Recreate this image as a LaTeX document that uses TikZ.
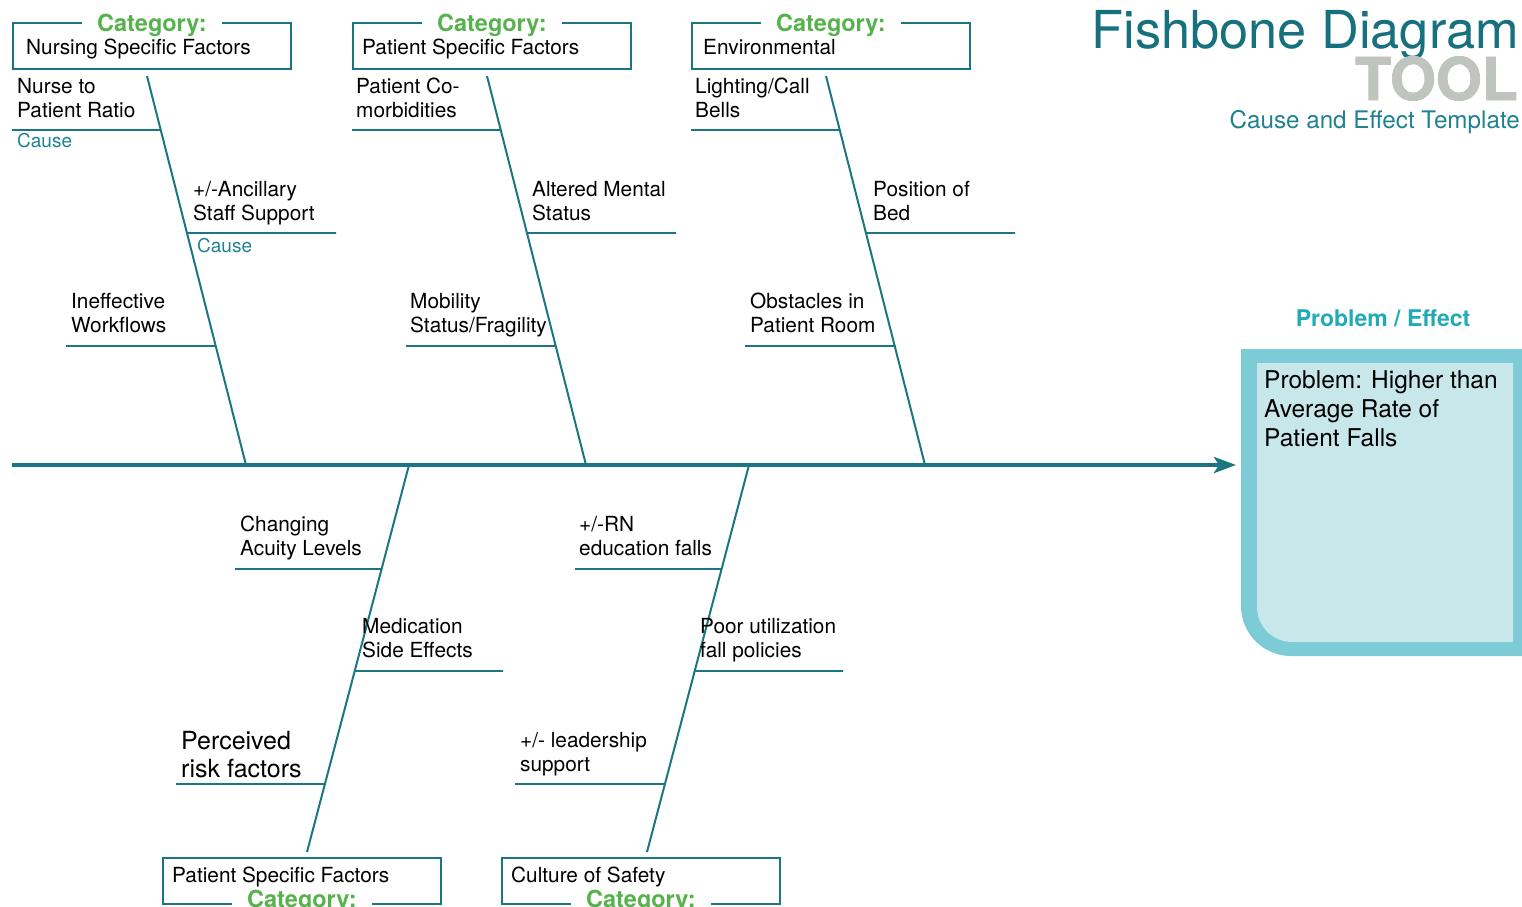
\documentclass[tikz,border=0pt]{standalone}
\usepackage{fontspec}
\setmainfont{TeX Gyre Heros}
\usetikzlibrary{arrows.meta,calc}
\definecolor{teal1}{RGB}{27,118,130}
\definecolor{titlecol}{RGB}{22,112,125}
\definecolor{teallt}{RGB}{30,130,145}
\definecolor{catgreen}{RGB}{86,178,76}
\definecolor{pecol}{RGB}{35,170,185}
\definecolor{boxout}{RGB}{124,203,214}
\definecolor{boxin}{RGB}{200,231,234}
\definecolor{toolgray}{RGB}{192,196,191}
\begin{document}
\begin{tikzpicture}[x=1pt,y=-1pt,
  bone/.style={draw=teal1,line width=2pt},
  subbone/.style={draw=teal1,line width=1.7pt},
  spine/.style={draw=teal1,line width=4pt},
  catbox/.style={draw=teal1,line width=1.8pt,minimum width=278pt,minimum height=46pt,inner sep=0pt,anchor=north west},
  cattitle/.style={font=\fontsize{23.5}{26}\selectfont\bfseries,text=catgreen,fill=white,inner xsep=15pt,inner ysep=0pt,anchor=base},
  cattext/.style={font=\fontsize{20.8}{24}\selectfont,anchor=base west,inner sep=0pt},
  lbl/.style={font=\fontsize{20.8}{24}\selectfont,anchor=base west,inner sep=0pt,align=left},
  biglbl/.style={font=\fontsize{25}{28}\selectfont,anchor=base west,inner sep=0pt,align=left},
  causelbl/.style={font=\fontsize{19}{20}\selectfont,text=teallt,anchor=base west,inner sep=0pt},
]
\useasboundingbox (0,0) rectangle (1522,906);

% title
\node[font=\fontsize{52.3}{56}\selectfont,text=titlecol,anchor=base east,inner sep=0pt] (title) at (1519,48) {Fishbone Diagram};
\node[font=\fontsize{59}{60}\selectfont\bfseries\addfontfeatures{FakeBold=1.6},text=toolgray,anchor=base east,inner sep=0pt] (tool) at (1518,100) {TOOL};
\node[font=\fontsize{24.2}{26}\selectfont,text=teallt,anchor=base east,inner sep=0pt] (subtitle) at (1520,128) {Cause and Effect Template};

% problem box
\fill[boxout] (1241,349) -- (1530,349) -- (1530,656) -- (1291,656) arc[start angle=90,end angle=180,radius=50] -- cycle;
\fill[boxin] (1257,363) -- (1513,363) -- (1513,642) -- (1292,642) arc[start angle=90,end angle=180,radius=35] -- cycle;
\node[font=\fontsize{23}{26}\selectfont\bfseries,text=pecol,anchor=base,inner sep=0pt] (pe) at (1383,326) {Problem / Effect};
\node[font=\fontsize{24.5}{29}\selectfont,anchor=base west,inner sep=0pt,align=left] (prob) at (1264,446) {Problem: Higher than\\Average Rate of\\Patient Falls};

% category boxes
\node[catbox] (cat1) at (12,22) {};
\node[catbox] (cat2) at (352,22) {};
\node[catbox] (cat3) at (691,22) {};
\node[catbox] (cat4) at (162,857) {};
\node[catbox] (cat5) at (501,857) {};
\node[cattitle] (cat1h) at ($(cat1.north)+(0,9)$) {Category:};
\node[cattitle] (cat2h) at ($(cat2.north)+(0,9)$) {Category:};
\node[cattitle] (cat3h) at ($(cat3.north)+(0,9)$) {Category:};
\node[cattitle] (cat4h) at ($(cat4.south)+(0,3)$) {Category:};
\node[cattitle] (cat5h) at ($(cat5.south)+(0,3)$) {Category:};
\node[cattext] (cat1t) at (26,54) {Nursing Specific Factors};
\node[cattext] (cat2t) at (362,54) {Patient Specific Factors};
\node[cattext] (cat3t) at (703,54) {Environmental};
\node[cattext] (cat4t) at (172,882) {Patient Specific Factors};
\node[cattext] (cat5t) at (511,882) {Culture of Safety};

% bones
\coordinate (b1t) at (147,76);  \coordinate (b1b) at (246,465);
\coordinate (b2t) at (487,76);  \coordinate (b2b) at (586,465);
\coordinate (b3t) at (826,76);  \coordinate (b3b) at (925,465);
\coordinate (b4t) at (409,465); \coordinate (b4b) at (307,852);
\coordinate (b5t) at (749,465); \coordinate (b5b) at (647,852);
\draw[bone] (b1t) -- (b1b);
\draw[bone] (b2t) -- (b2b);
\draw[bone] (b3t) -- (b3b);
\draw[bone] (b4t) -- (b4b);
\draw[bone] (b5t) -- (b5b);

% sub-bones top
\coordinate (s11) at (12,130);  \draw[subbone] (s11) -- ($(b1t)!0.1388!(b1b)$);
\coordinate (s12) at (336,233); \draw[subbone] (s12) -- ($(b1t)!0.4036!(b1b)$);
\coordinate (s13) at (66,346);  \draw[subbone] (s13) -- ($(b1t)!0.6941!(b1b)$);
\coordinate (s21) at (352,130); \draw[subbone] (s21) -- ($(b2t)!0.1388!(b2b)$);
\coordinate (s22) at (676,233); \draw[subbone] (s22) -- ($(b2t)!0.4036!(b2b)$);
\coordinate (s23) at (406,346); \draw[subbone] (s23) -- ($(b2t)!0.6941!(b2b)$);
\coordinate (s31) at (691,130); \draw[subbone] (s31) -- ($(b3t)!0.1388!(b3b)$);
\coordinate (s32) at (1015,233);\draw[subbone] (s32) -- ($(b3t)!0.4036!(b3b)$);
\coordinate (s33) at (745,346); \draw[subbone] (s33) -- ($(b3t)!0.6941!(b3b)$);
% sub-bones bottom
\coordinate (s41) at (235,569); \draw[subbone] (s41) -- ($(b4t)!0.2687!(b4b)$);
\coordinate (s42) at (503,671); \draw[subbone] (s42) -- ($(b4t)!0.5323!(b4b)$);
\coordinate (s43) at (176,784); \draw[subbone] (s43) -- ($(b4t)!0.8243!(b4b)$);
\coordinate (s51) at (575,569); \draw[subbone] (s51) -- ($(b5t)!0.2687!(b5b)$);
\coordinate (s52) at (843,671); \draw[subbone] (s52) -- ($(b5t)!0.5323!(b5b)$);
\coordinate (s53) at (515,784); \draw[subbone] (s53) -- ($(b5t)!0.8243!(b5b)$);

% spine
\coordinate (sp0) at (12,465);
\coordinate (sp1) at (1236,465);
\draw[spine,-{Stealth[length=22pt,width=16pt,inset=5pt]}] (sp0) -- (sp1);

% labels (anchor = baseline of last line)
\node[lbl] (l11) at (17,117) {Nurse to\\Patient Ratio};
\node[causelbl] (c11) at (17,147) {Cause};
\node[lbl] (l12) at (193,220) {+/-Ancillary\\Staff Support};
\node[causelbl] (c12) at (197,252) {Cause};
\node[lbl] (l13) at (71,332) {Ineffective\\Workflows};
\node[lbl] (l21) at (356,117) {Patient Co-\\morbidities};
\node[lbl] (l22) at (532,220) {Altered Mental\\Status};
\node[lbl] (l23) at (410,332) {Mobility\\Status/Fragility};
\node[lbl] (l31) at (695,117) {Lighting/Call\\Bells};
\node[lbl] (l32) at (873,220) {Position of\\Bed};
\node[lbl] (l33) at (750,332) {Obstacles in\\Patient Room};
\node[lbl] (l41) at (240,555) {Changing\\Acuity Levels};
\node[lbl] (l42) at (362,657) {Medication\\Side Effects};
\node[biglbl] (l43) at (181,777) {Perceived\\risk factors};
\node[lbl] (l51) at (579,555) {+/-RN\\education falls};
\node[lbl] (l52) at (700,657) {Poor utilization\\fall policies};
\node[lbl] (l53) at (520,771) {+/- leadership\\support};
\end{tikzpicture}
\end{document}
